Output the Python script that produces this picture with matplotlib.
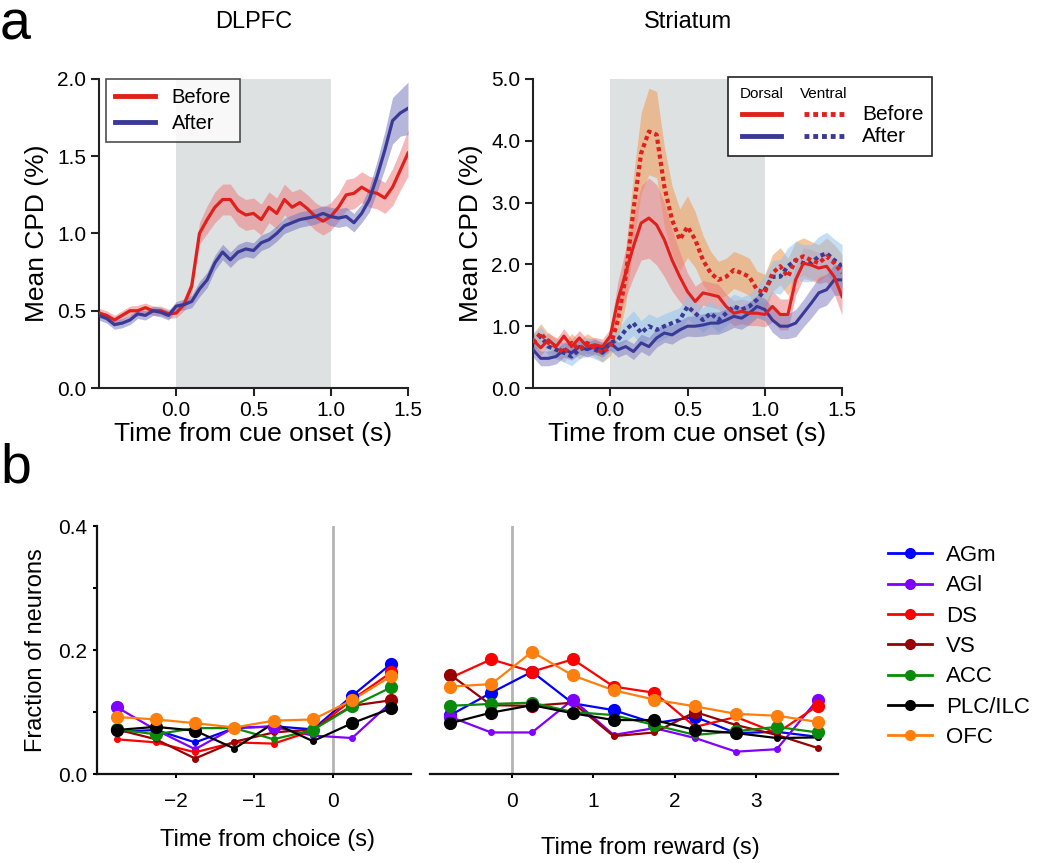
import numpy as np
import matplotlib
matplotlib.use("Agg")
import matplotlib.pyplot as plt
from matplotlib.lines import Line2D
from matplotlib.patches import Rectangle

plt.rcParams['font.family'] = ['Liberation Sans', 'DejaVu Sans']

W, H = 1050, 863

# ---------------- data: panel a ----------------
time_a = np.round(np.arange(-0.5, 1.5001, 0.05), 2)

dlpfc_before = [0.485, 0.47, 0.44, 0.47, 0.50, 0.50, 0.52, 0.50, 0.50, 0.48,
                0.485, 0.54, 0.66, 1.00, 1.09, 1.17, 1.22, 1.22, 1.15, 1.12,
                1.13, 1.09, 1.17, 1.13, 1.22, 1.17, 1.20, 1.16, 1.11, 1.08,
                1.11, 1.17, 1.25, 1.26, 1.30, 1.27, 1.26, 1.23, 1.30, 1.41, 1.52]
dlpfc_before_err = [0.03, 0.03, 0.03, 0.03, 0.03, 0.035, 0.03, 0.03, 0.03, 0.03,
                    0.03, 0.04, 0.05, 0.07, 0.09, 0.10, 0.10, 0.10, 0.10, 0.10,
                    0.10, 0.10, 0.10, 0.10, 0.10, 0.10, 0.09, 0.09, 0.09, 0.09,
                    0.09, 0.09, 0.10, 0.10, 0.10, 0.10, 0.10, 0.10, 0.12, 0.13, 0.15]
dlpfc_after = [0.47, 0.45, 0.41, 0.42, 0.44, 0.48, 0.47, 0.50, 0.49, 0.47,
               0.53, 0.54, 0.56, 0.64, 0.70, 0.81, 0.88, 0.83, 0.88, 0.90,
               0.89, 0.94, 0.96, 1.00, 1.05, 1.07, 1.09, 1.10, 1.11, 1.13,
               1.11, 1.10, 1.11, 1.07, 1.13, 1.22, 1.37, 1.54, 1.73, 1.78, 1.81]
dlpfc_after_err = [0.03, 0.03, 0.03, 0.03, 0.03, 0.03, 0.03, 0.03, 0.03, 0.03,
                   0.03, 0.035, 0.04, 0.05, 0.05, 0.05, 0.05, 0.05, 0.05, 0.05,
                   0.05, 0.05, 0.05, 0.05, 0.05, 0.05, 0.05, 0.05, 0.05, 0.05,
                   0.06, 0.06, 0.06, 0.06, 0.06, 0.08, 0.10, 0.12, 0.15, 0.15, 0.17]

dorsal_before = [0.78, 0.65, 0.78, 0.67, 0.84, 0.67, 0.81, 0.67, 0.70, 0.67,
                 0.84, 1.43, 1.86, 2.29, 2.67, 2.75, 2.64, 2.40, 2.07, 1.80,
                 1.56, 1.40, 1.54, 1.51, 1.48, 1.32, 1.21, 1.24, 1.21, 1.21,
                 1.19, 1.32, 1.19, 1.19, 1.75, 2.02, 1.99, 1.94, 1.97, 1.80, 1.48]
dorsal_before_err = [0.12, 0.12, 0.12, 0.12, 0.12, 0.12, 0.12, 0.12, 0.12, 0.12,
                     0.12, 0.30, 0.40, 0.50, 0.60, 0.65, 0.65, 0.60, 0.50, 0.40,
                     0.30, 0.25, 0.20, 0.20, 0.20, 0.20, 0.20, 0.20, 0.20, 0.20,
                     0.20, 0.25, 0.25, 0.25, 0.25, 0.25, 0.25, 0.25, 0.25, 0.28, 0.30]
ventral_before = [0.73, 0.89, 0.73, 0.67, 0.57, 0.73, 0.62, 0.73, 0.65, 0.57,
                  0.67, 1.10, 1.80, 2.88, 3.80, 4.15, 4.10, 3.26, 2.72, 2.40,
                  2.61, 2.40, 2.07, 1.86, 1.75, 1.80, 1.91, 1.86, 1.80, 1.59,
                  1.54, 1.86, 1.97, 1.80, 2.07, 2.13, 2.07, 2.02, 2.13, 2.02, 1.86]
ventral_before_err = [0.15, 0.15, 0.15, 0.15, 0.15, 0.15, 0.15, 0.15, 0.15, 0.15,
                      0.15, 0.30, 0.45, 0.55, 0.65, 0.70, 0.70, 0.65, 0.55, 0.50,
                      0.50, 0.45, 0.40, 0.35, 0.30, 0.30, 0.30, 0.30, 0.30, 0.30,
                      0.30, 0.30, 0.30, 0.30, 0.30, 0.30, 0.30, 0.30, 0.30, 0.30, 0.30]
dorsal_after = [0.62, 0.48, 0.48, 0.51, 0.62, 0.57, 0.67, 0.62, 0.67, 0.62,
                0.73, 0.62, 0.67, 0.59, 0.73, 0.67, 0.81, 0.89, 0.86, 0.94,
                1.00, 1.00, 1.02, 1.05, 1.05, 1.10, 1.16, 1.13, 1.21, 1.32,
                1.27, 1.10, 1.00, 1.00, 1.05, 1.21, 1.37, 1.54, 1.59, 1.75, 1.75]
dorsal_after_err = [0.12, 0.12, 0.12, 0.12, 0.12, 0.12, 0.12, 0.12, 0.12, 0.12,
                    0.12, 0.12, 0.12, 0.13, 0.14, 0.15, 0.15, 0.15, 0.15, 0.15,
                    0.16, 0.17, 0.18, 0.18, 0.18, 0.18, 0.18, 0.18, 0.18, 0.18,
                    0.18, 0.20, 0.20, 0.20, 0.22, 0.22, 0.24, 0.25, 0.25, 0.25, 0.25]
ventral_after = [0.73, 0.84, 0.67, 0.62, 0.57, 0.51, 0.62, 0.67, 0.62, 0.57,
                 0.73, 0.78, 0.94, 1.05, 0.89, 1.00, 0.94, 1.00, 1.05, 1.10,
                 1.32, 1.21, 1.10, 1.21, 1.10, 1.21, 1.32, 1.27, 1.32, 1.43,
                 1.59, 1.80, 1.80, 1.97, 2.07, 2.02, 2.02, 2.13, 2.18, 2.07, 1.97]
ventral_after_err = [0.15, 0.15, 0.15, 0.15, 0.15, 0.15, 0.15, 0.15, 0.15, 0.15,
                     0.15, 0.17, 0.18, 0.20, 0.20, 0.20, 0.20, 0.20, 0.20, 0.20,
                     0.20, 0.20, 0.20, 0.20, 0.20, 0.20, 0.20, 0.20, 0.20, 0.22,
                     0.24, 0.26, 0.28, 0.30, 0.30, 0.30, 0.30, 0.32, 0.34, 0.34, 0.35]

# ---------------- data: panel b ----------------
regions = ['AGm', 'AGl', 'DS', 'VS', 'ACC', 'PLC/ILC', 'OFC']
region_colors = ['#0000ff', '#7f00ff', '#ff0000', '#990000', '#0a8a0a', '#000000', '#ff7f0e']

time_choice = [-2.75, -2.25, -1.75, -1.25, -0.75, -0.25, 0.25, 0.75]
time_reward = [-0.75, -0.25, 0.25, 0.75, 1.25, 1.75, 2.25, 2.75, 3.25, 3.75]

frac_choice = {
    'AGm':     [0.068, 0.071, 0.051, 0.074, 0.077, 0.072, 0.126, 0.178],
    'AGl':     [0.108, 0.071, 0.040, 0.075, 0.076, 0.062, 0.058, 0.116],
    'DS':      [0.056, 0.051, 0.035, 0.051, 0.049, 0.070, 0.120, 0.164],
    'VS':      [0.072, 0.056, 0.025, 0.052, 0.067, 0.072, 0.110, 0.119],
    'ACC':     [0.072, 0.064, 0.074, 0.074, 0.056, 0.071, 0.109, 0.140],
    'PLC/ILC': [0.071, 0.076, 0.070, 0.041, 0.082, 0.053, 0.082, 0.106],
    'OFC':     [0.092, 0.088, 0.082, 0.075, 0.086, 0.088, 0.119, 0.158],
}
sig_choice = {
    'AGm':     [0, 0, 0, 0, 0, 0, 1, 1],
    'AGl':     [1, 0, 0, 0, 1, 0, 0, 0],
    'DS':      [0, 0, 0, 0, 0, 0, 1, 1],
    'VS':      [0, 0, 0, 0, 0, 0, 0, 1],
    'ACC':     [1, 1, 0, 0, 0, 1, 1, 1],
    'PLC/ILC': [1, 1, 1, 0, 0, 0, 1, 1],
    'OFC':     [1, 1, 1, 1, 1, 1, 1, 1],
}
frac_reward = {
    'AGm':     [0.095, 0.131, 0.165, 0.114, 0.103, 0.082, 0.092, 0.066, 0.068, 0.060],
    'AGl':     [0.092, 0.067, 0.067, 0.120, 0.063, 0.074, 0.058, 0.036, 0.040, 0.120],
    'DS':      [0.155, 0.185, 0.165, 0.185, 0.141, 0.131, 0.076, 0.092, 0.066, 0.110],
    'VS':      [0.160, 0.111, 0.110, 0.115, 0.061, 0.067, 0.100, 0.079, 0.063, 0.042],
    'ACC':     [0.110, 0.113, 0.115, 0.100, 0.095, 0.079, 0.063, 0.069, 0.076, 0.067],
    'PLC/ILC': [0.082, 0.099, 0.111, 0.098, 0.087, 0.087, 0.071, 0.066, 0.058, 0.059],
    'OFC':     [0.141, 0.145, 0.197, 0.159, 0.135, 0.120, 0.109, 0.097, 0.094, 0.084],
}
sig_reward = {
    'AGm':     [1, 1, 1, 0, 1, 0, 1, 0, 0, 0],
    'AGl':     [1, 0, 0, 1, 0, 0, 0, 0, 0, 1],
    'DS':      [0, 1, 1, 1, 1, 1, 0, 0, 0, 1],
    'VS':      [1, 0, 1, 0, 0, 0, 1, 0, 0, 0],
    'ACC':     [1, 1, 1, 0, 0, 1, 0, 1, 1, 1],
    'PLC/ILC': [1, 1, 1, 1, 1, 1, 1, 1, 0, 0],
    'OFC':     [1, 1, 1, 1, 1, 1, 1, 1, 1, 1],
}

# ---------------- figure ----------------
fig = plt.figure(figsize=(W / 100, H / 100), dpi=100)


def ax_px(x0, y0, x1, y1):
    return fig.add_axes([x0 / W, 1 - y1 / H, (x1 - x0) / W, (y1 - y0) / H])


RED = '#e0201c'
BLUE = '#3a3a96'
SHADE = '#dde1e2'
SPINE = '#222222'
TICK_FS = 15
LAB_FS = 19


def style_a(ax, ymax, yticks, ylabels):
    ax.set_xlim(-0.5, 1.5)
    ax.set_ylim(0, ymax)
    for s in ['top', 'right']:
        ax.spines[s].set_visible(False)
    for s in ['left', 'bottom']:
        ax.spines[s].set_linewidth(1.5)
        ax.spines[s].set_color(SPINE)
    ax.set_xticks([0, 0.5, 1.0, 1.5])
    ax.set_xticklabels(['0.0', '0.5', '1.0', '1.5'])
    ax.set_yticks(yticks)
    ax.set_yticklabels(ylabels)
    ax.tick_params(length=6, width=1.5, color=SPINE, labelsize=TICK_FS, pad=3)
    ax.set_xlabel('Time from cue onset (s)', fontsize=LAB_FS, labelpad=2)
    ax.set_ylabel('Mean CPD (%)', fontsize=LAB_FS, labelpad=6)
    ax.axvspan(0, 1, color=SHADE, lw=0, zorder=0)


# ---- panel a, DLPFC ----
ax1 = ax_px(99, 79, 408, 388)
style_a(ax1, 2.0, [0, 0.5, 1.0, 1.5, 2.0], ['0.0', '0.5', '1.0', '1.5', '2.0'])
b = np.array(dlpfc_before); be = np.array(dlpfc_before_err)
a = np.array(dlpfc_after); ae = np.array(dlpfc_after_err)
ax1.fill_between(time_a, b - be, b + be, color='#ec7f80', alpha=0.55, lw=0, zorder=1)
ax1.fill_between(time_a, a - ae, a + ae, color='#7a78c0', alpha=0.55, lw=0, zorder=1)
ax1.plot(time_a, b, color=RED, lw=2.3, zorder=3, label='Before')
ax1.plot(time_a, a, color=BLUE, lw=2.3, zorder=3, label='After')
leg = ax1.legend(loc='upper left', bbox_to_anchor=(0.023, 1.0), borderaxespad=0,
                 fontsize=14.5, frameon=True, fancybox=False, handlelength=2.0,
                 handletextpad=0.8, borderpad=0.45, labelspacing=0.35)
leg.get_frame().set_edgecolor('#222222')
leg.get_frame().set_linewidth(1.2)
for ln in leg.get_lines():
    ln.set_linewidth(3.5)
ax1.set_title('DLPFC', fontsize=17, pad=37)

# ---- panel a, Striatum ----
ax2 = ax_px(533, 79, 842, 388)
style_a(ax2, 5.0, [0, 1, 2, 3, 4, 5], ['0.0', '1.0', '2.0', '3.0', '4.0', '5.0'])
for vals, errs, col, al in [(ventral_before, ventral_before_err, '#f0a060', 0.6),
                            (dorsal_before, dorsal_before_err, '#ec7f80', 0.55),
                            (ventral_after, ventral_after_err, '#94c4ee', 0.55),
                            (dorsal_after, dorsal_after_err, '#7a78c0', 0.5)]:
    v = np.array(vals); e = np.array(errs)
    ax2.fill_between(time_a, v - e, v + e, color=col, alpha=al, lw=0, zorder=1)
ax2.plot(time_a, dorsal_after, color=BLUE, lw=2.2, zorder=3)
ax2.plot(time_a, ventral_after, color=BLUE, lw=3.0, ls=(0, (1.0, 0.8)), zorder=3)
ax2.plot(time_a, dorsal_before, color=RED, lw=2.2, zorder=4)
ax2.plot(time_a, ventral_before, color=RED, lw=3.0, ls=(0, (1.0, 0.8)), zorder=4)
ax2.set_title('Striatum', fontsize=17, pad=37)

# custom legend for striatum (figure pixel coordinates)
def fx(x):
    return x / W


def fy(y):
    return 1 - y / H


fig.add_artist(Rectangle((fx(728), fy(156)), (932 - 728) / W, (156 - 77) / H,
                         transform=fig.transFigure, fill=True, facecolor='white',
                         edgecolor='#222222', lw=1.2, zorder=10))
fig.text(fx(762), fy(94), 'Dorsal', fontsize=11, ha='center', va='center', zorder=11)
fig.text(fx(824), fy(94), 'Ventral', fontsize=11, ha='center', va='center', zorder=11)
for yy, col, lab in [(114, RED, 'Before'), (136, BLUE, 'After')]:
    fig.add_artist(Line2D([fx(742), fx(781)], [fy(yy), fy(yy)], color=col, lw=3.5,
                          transform=fig.transFigure, zorder=11))
    fig.add_artist(Line2D([fx(804), fx(845)], [fy(yy), fy(yy)], color=col, lw=3.5,
                          ls=(0, (1.0, 0.8)), transform=fig.transFigure, zorder=11))
    fig.text(fx(862), fy(yy), lab, fontsize=15, ha='left', va='center', zorder=11)

# ---------------- panel b ----------------
ax3 = ax_px(97, 526, 411, 774)
ax4 = ax_px(430, 526, 838, 774)
SMALL_MS = 4.0
BIG_MS = 8.5

for ax, tt, data, sig, xlim in [(ax3, time_choice, frac_choice, sig_choice, (-3, 1)),
                                (ax4, time_reward, frac_reward, sig_reward, (-1, 4))]:
    ax.axvline(0, color='#b4b4b4', lw=2, zorder=1)
    for reg, col in zip(regions, region_colors):
        vals = np.array(data[reg])
        s = np.array(sig[reg], dtype=bool)
        tarr = np.array(tt)
        ax.plot(tarr, vals, color=col, lw=1.6, marker='o', ms=SMALL_MS, zorder=3)
        ax.plot(tarr[s], vals[s], ls='none', marker='o', ms=BIG_MS, color=col, zorder=4)
    ax.set_xlim(*xlim)
    ax.set_ylim(0, 0.4)
    for sname in ['top', 'right']:
        ax.spines[sname].set_visible(False)
    ax.spines['bottom'].set_linewidth(1.6)
    ax.spines['bottom'].set_color('#111111')
    ax.tick_params(axis='x', length=3, width=1.5, labelsize=15, pad=10)

ax3.spines['left'].set_linewidth(1.6)
ax3.spines['left'].set_color('#111111')
ax3.set_yticks([0, 0.1, 0.2, 0.3, 0.4])
ax3.set_yticklabels(['0.0', '', '0.2', '', '0.4'])
ax3.tick_params(axis='y', length=3, width=1.5, labelsize=15, pad=4)
ax3.set_xticks([-2, -1, 0])
ax3.set_xticklabels(['\u22122', '\u22121', '0'])
ax3.set_ylabel('Fraction of neurons', fontsize=17, labelpad=8)
ax3.set_xlabel('Time from choice (s)', fontsize=17)
ax3.xaxis.set_label_coords((267 - 97) / 314, -(840 - 774) / 248, transform=ax3.transAxes)
ax3.xaxis.label.set_va('center')

ax4.spines['left'].set_visible(False)
ax4.set_yticks([])
ax4.set_xticks([0, 1, 2, 3])
ax4.set_xticklabels(['0', '1', '2', '3'])
ax4.set_xlabel('Time from reward (s)', fontsize=17)
ax4.xaxis.set_label_coords((650 - 430) / 408, -(848 - 774) / 248, transform=ax4.transAxes)
ax4.xaxis.label.set_va('center')

handles = [Line2D([0], [0], color=c, lw=2, marker='o', ms=7) for c in region_colors]
fig.legend(handles, regions, loc='upper left', bbox_to_anchor=(888 / W, 1 - 545 / H),
           frameon=False, fontsize=16, handlelength=2.0, handletextpad=0.6,
           labelspacing=0.42, borderpad=0, borderaxespad=0)

# panel letters
fig.text(0 / W, 1 - 0 / H, 'a', fontsize=40, ha='left', va='top')
fig.text(0 / W, 1 - 442 / H, 'b', fontsize=40, ha='left', va='top')

fig.savefig('out.png', dpi=100)
